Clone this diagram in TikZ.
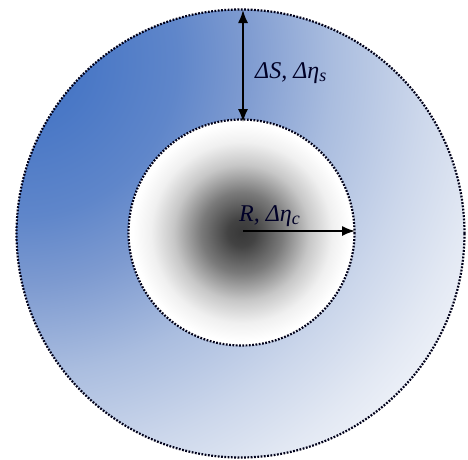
\documentclass[tikz,border=0pt]{standalone}
\usepackage{fontspec}
\setmainfont{Liberation Serif}
\usetikzlibrary{arrows.meta,calc}
\definecolor{s0}{HTML}{4070C0}
\definecolor{s1}{HTML}{4A78C6}
\definecolor{s2}{HTML}{5F86CA}
\definecolor{s3}{HTML}{7D9AD0}
\definecolor{s4}{HTML}{AABDDF}
\definecolor{s5}{HTML}{CCD7EB}
\definecolor{s6}{HTML}{E2E8F3}
\definecolor{s7}{HTML}{F4F6FB}
\pgfdeclareradialshading{shellshade}{\pgfpoint{0bp}{0bp}}{%
  color(0bp)=(s0); color(3bp)=(s1); color(7bp)=(s2); color(10bp)=(s3);
  color(14bp)=(s4); color(18bp)=(s5); color(21bp)=(s6); color(24bp)=(s7); color(50bp)=(s7)}
\pgfdeclareradialshading{coreshade}{\pgfpoint{0bp}{0bp}}{%
  color(0bp)=(black!78); color(3bp)=(black!74); color(9bp)=(black!52);
  color(15bp)=(black!22); color(20bp)=(black!6); color(24bp)=(white); color(50bp)=(white)}
\begin{document}
\begin{tikzpicture}[x=1pt,y=-1pt,
  dotline/.style={line width=2.2pt,dash pattern=on 1.8pt off 1.5pt,black!90!blue},
  dimarrow/.style={line width=1.6pt,black,{Latex[length=13pt,width=10pt]}-{Latex[length=13pt,width=10pt]}},
  radarrow/.style={line width=1.6pt,black,-{Latex[length=13pt,width=10pt]}},
  lbl/.style={font=\fontsize{24}{25}\selectfont\itshape,inner sep=0pt,text=black!85!blue}]
\useasboundingbox (0,0) rectangle (468,459);
\coordinate (c) at (240.5,233.5);
\coordinate (k) at (241.5,232.5);
\coordinate (g) at (20,60);
% outer shell
\begin{scope}
\clip (c) circle[radius=224];
\shade[shading=shellshade] (g) circle[radius=560];
\end{scope}
% core
\fill[white] (k) circle[radius=113];
\shade[shading=coreshade] (k) circle[radius=113];
\draw[dotline] (c) circle[radius=224];
\draw[dotline] (k) circle[radius=113];
% arrows
\coordinate (stop) at (243,10);
\coordinate (sbot) at (243,122);
\coordinate (rstart) at (243,231);
\coordinate (rend) at (355,231);
\draw[dimarrow] (stop) -- (sbot);
\draw[radarrow] (rstart) -- (rend);
\node[lbl,anchor=base west] (slabel) at (255,78) {ΔS, Δη\textsubscript{\fontsize{18}{18}\selectfont s}};
\node[lbl,anchor=base west] (rlabel) at (239,221) {R, Δη\textsubscript{\fontsize{18}{18}\selectfont c}};
\end{tikzpicture}
\end{document}
